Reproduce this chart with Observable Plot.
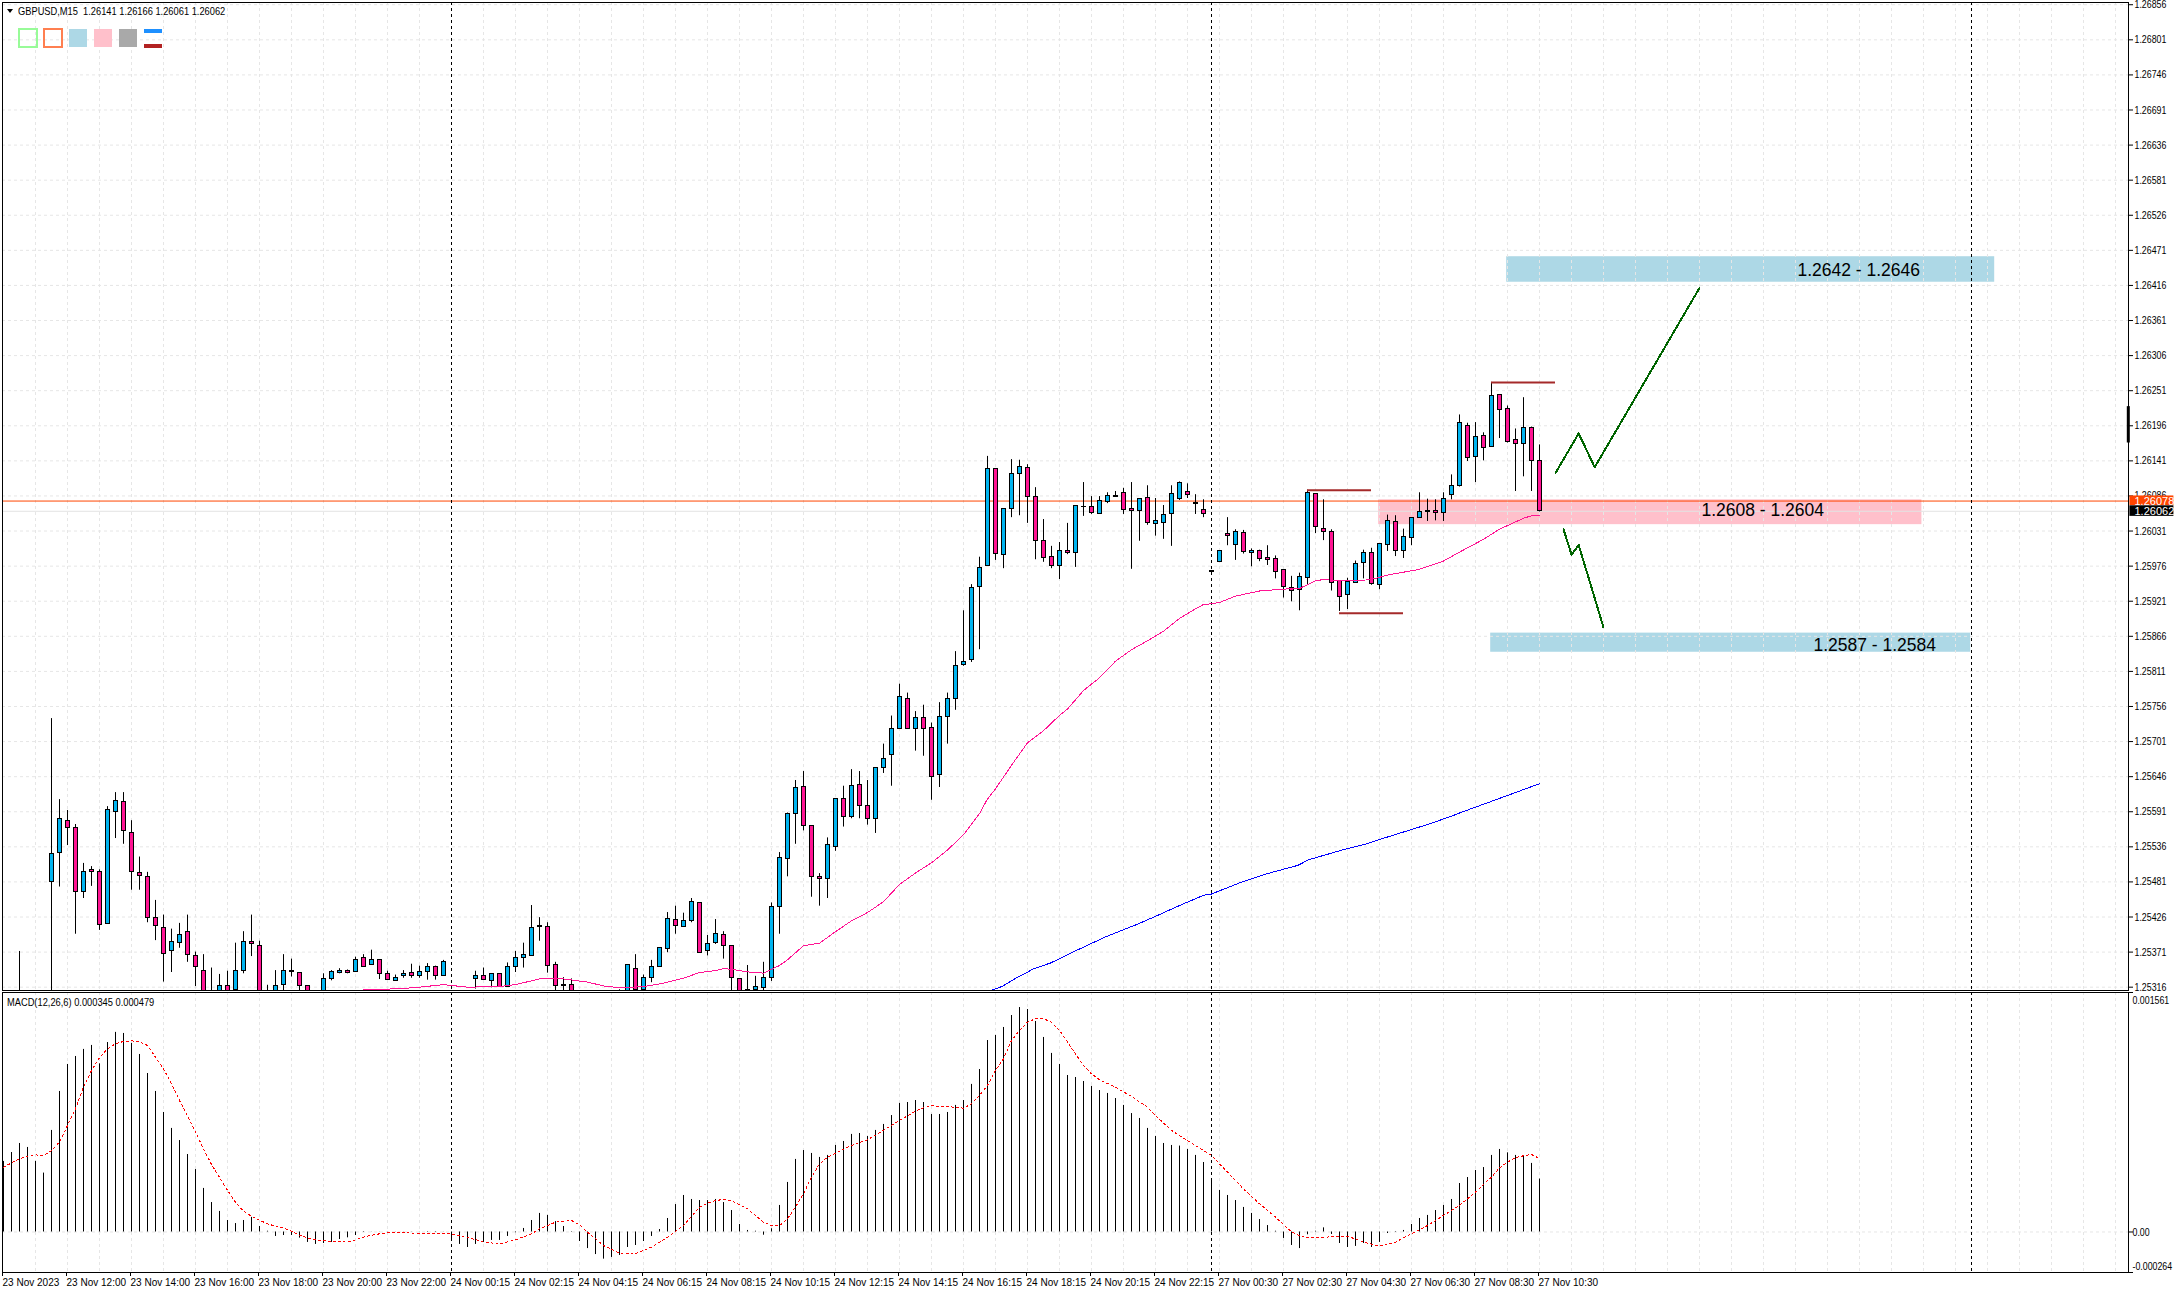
<!DOCTYPE html>
<html><head><meta charset="utf-8">
<script src="https://cdn.jsdelivr.net/npm/d3@7"></script>
<script src="https://cdn.jsdelivr.net/npm/@observablehq/plot@0.6"></script>
<style>
html,body{margin:0;padding:0;background:#fff;overflow:hidden}
#root{position:relative;width:2174px;height:1293px;font-family:"Liberation Sans",sans-serif;font-size:11px;color:#000}
#root svg{position:absolute;left:0;display:block;background:transparent}
.o{position:absolute;white-space:pre;line-height:12px;transform:scaleX(.845);transform-origin:left center}
.s{position:absolute;box-sizing:border-box}
</style></head><body><div id="root"></div>
<script>
// GBPUSD M15 prices in points (1 point = 0.00001); bar number 0..192; null = not drawn in the picture
const highs=[null,null,125372,null,null,null,
125737,125610,125593,125571,125510,125505,125500,125599,125621,125621,
125577,125520,125496,125452,125429,125407,125416,125429,125371,125367,
125346,125336,125341,125385,125403,125429,125388,125319,125342,125367,
125360,125339,125318,null,125337,125342,125345,125343,125363,125367,
125374,125359,125341,125335,125342,125352,125349,125353,125349,125358,
null,null,null,125341,125346,125337,125336,125354,125372,125385,125444,125425,125417,125355,125331,125329,
null,null,null,null,null,125312,125351,125367,125335,125358,125378,125433,125443,125432,125455,
125448,125397,125422,125403,125381,125329,125350,125333,125355,125448,
125527,125589,125640,125654,125569,125494,125550,125611,125631,125657,
125654,125640,125660,125697,125741,125791,125777,125748,125758,125730,
125762,125777,125842,125906,125947,125990,126148,126129,126066,126143,
126142,126135,126099,126049,126007,126013,126043,126071,126107,126085,
126085,126091,126093,126098,126107,126082,126102,126082,126071,126102,
126108,126105,126088,126080,125969,126000,126052,126033,126032,126003,
126001,126008,125992,125970,125960,125965,126095,126089,126080,126033,
125953,125957,125984,126001,126004,126011,126056,126055,126034,126051,
126091,126081,126080,126091,126119,126213,126200,126201,126185,126264,
126244,126227,126191,126240,126194,126166];
const lows=[null,null,125290,null,null,null,
125290,125473,125538,125399,125455,125474,125405,125415,125549,125540,
125468,125468,125417,125389,125324,125339,125377,125355,125317,125285,
125285,125290,125290,125300,125337,125364,125290,125295,125295,125300,
125332,125300,125295,null,125300,125326,125337,125337,125339,125347,
125351,125328,125327,125325,125330,125330,125330,125327,125327,125334,
null,null,null,125313,125327,125315,125317,125316,125339,125346,125365,125388,125338,125295,125300,125295,
null,null,null,null,null,125295,125295,125300,125305,125323,125348,125370,125399,125411,125417,
125370,125365,125383,125360,125295,125300,125300,125300,125300,125325,
125399,125489,125540,125561,125457,125443,125455,125529,125567,125580,
125580,125570,125557,125651,125631,125721,125720,125686,125678,125609,
125629,125697,125750,125819,125825,125845,125976,125985,125972,126052,
126055,126043,125986,125982,125972,125955,125994,125974,126054,126057,
126058,126074,126085,126057,125971,126015,126040,126023,126018,126007,
126079,126082,126057,126052,125964,125983,126008,125985,125995,125975,
125983,125977,125956,125926,125920,125906,125947,126027,126016,125937,
125905,125908,125950,125956,125946,125939,125999,125991,125988,126008,
126051,126046,126047,126046,126080,126100,126140,126107,126141,126163,
126176,126169,126093,126116,126093,126061];
const opens=[null,null,125305,null,null,null,
125481,125526,125577,125566,125465,125499,125497,125415,125591,125607,
125558,125495,125489,125425,125409,125373,125385,125403,125365,125342,
125300,125300,125318,125311,125342,125387,125381,125305,125300,125319,
125342,125339,125318,null,125305,125329,125338,125342,125340,125361,
125351,125359,125337,125326,125334,125339,125334,125340,125348,125334,
null,null,null,125329,125334,125326,125336,125317,125347,125362,125365,125412,125411,125350,125320,125320,
null,null,null,null,null,125305,125305,125345,125311,125331,125348,125376,125422,125411,125419,
125448,125372,125386,125398,125381,125329,125312,125311,125315,125331,
125442,125517,125588,125630,125569,125489,125485,125536,125611,125582,
125633,125600,125580,125660,125680,125721,125768,125721,125738,125723,
125649,125740,125768,125821,125829,125944,125976,126129,125994,126066,
126121,126130,126085,126016,125991,125976,126000,125997,126069,126069,
126058,126077,126086,126091,126066,126063,126083,126042,126044,126058,
126082,126092,126075,126064,125968,125983,126027,126009,126028,125997,
126000,125988,125987,125970,125942,125938,125957,126089,126034,126029,
125953,125931,125950,125981,125997,125946,126009,126045,126000,126020,
126051,126063,126062,126059,126087,126101,126196,126147,126180,126163,
126244,126222,126174,126167,126192,126141];
const closes=[null,null,125302,null,null,null,
125525,125579,125565,125465,125497,125497,125413,125593,125608,125561,
125497,125490,125424,125412,125368,125387,125398,125367,125348,125295,
125296,125318,125300,125342,125387,125384,125300,125302,125318,125342,
125340,125318,125300,null,125329,125340,125342,125338,125359,125348,
125359,125337,125327,125331,125337,125334,125340,125348,125334,125356,
null,null,null,125334,125327,125336,125317,125347,125361,125367,125409,125410,125349,125318,125318,125300,
null,null,null,null,null,125303,125351,125311,125331,125348,125378,125423,125412,125420,125450,
125370,125384,125400,125380,125331,125305,125311,125317,125331,125442,
125519,125588,125629,125569,125489,125486,125539,125611,125583,125632,
125600,125579,125660,125674,125721,125771,125720,125738,125721,125646,
125740,125767,125820,125826,125942,125973,126129,125995,126066,126121,
126132,126085,126016,125989,125976,126000,125997,126071,126068,126060,
126078,126086,126084,126064,126063,126082,126044,126046,126056,126089,
126107,126088,126073,126058,125967,126000,126024,126030,125998,126000,
125987,125986,125967,125943,125937,125959,126091,126037,126029,125950,
125928,125951,125979,125997,125948,126011,126047,126000,126022,126051,
126061,126061,126059,126081,126101,126200,126145,126178,126161,126243,
126221,126171,126167,126192,126141,126062];
// moving averages: [bar, points]
const maPink=[[45,125312],[48,125313],[50,125314],[52,125316],[55,125320],[58,125316],[62,125317],[64,125320],[67,125329],[70,125329],[73,125324],[75,125318],[77,125315],[80,125317],[82,125321],[85,125330],[87,125339],[89,125342],[90,125345],[91,125344],[93,125340],[95,125338],[97,125350],[98,125359],[100,125381],[102,125385],[104,125403],[106,125420],[108,125433],[110,125450],[112,125477],[114,125495],[116,125511],[118,125531],[120,125555],[122,125588],[122.9,125609],[124,125627],[126.4,125671],[128,125699],[130,125718],[132,125742],[133,125752],[135,125781],[137,125801],[139,125827],[141,125845],[143,125859],[145,125874],[147,125894],[149,125909],[150,125916],[151,125917],[152,125919],[154,125929],[157,125937],[160,125940],[162,125941],[164,125953],[165,125955],[167,125953],[169,125953],[171,125955],[173,125962],[177,125971],[180,125984],[182,125998],[185,126018],[187,126034],[190,126051],[191,126055],[192,126055]];
const maBlue=[[123.4,125311],[124.8,125317],[126.4,125329],[128.8,125345],[130.9,125354],[134.1,125373.5],[137.6,125394],[142,125416],[144.7,125431],[147,125444],[150,125460],[151,125462],[154.4,125479],[157.7,125493],[161.8,125507],[163.2,125516],[167.9,125533],[170.2,125540],[172.9,125551],[178,125571],[181,125584],[182.2,125590],[186.8,125611],[192,125635]];
// MACD histogram, millionths
const macd=[460,518,577,551,460,384,662,916,1092,1144,1190,1216,1096,1235,1301,1294,1229,1157,1033,916,
779,675,596,505,407,284,192,134,75,55,75,95,36,5,-29,-23,-23,-40,-68,-81,
-75,-68,-49,-38,-23,-3,-1,-1,1,1,1,-1,1,3,3,1,-55,-81,-101,-81,
-68,-55,-55,-29,-5,23,75,121,108,68,36,3,-62,-108,-147,-177,-166,-153,-101,-88,
-62,-29,16,88,179,238,212,205,205,212,192,140,49,10,5,-21,21,173,323,473,
531,512,486,499,564,590,636,642,623,662,701,759,838,844,857,844,766,766,779,825,
857,962,1059,1248,1281,1333,1411,1463,1450,1372,1268,1164,1092,1020,1007,981,949,922,903,870,
825,772,740,675,623,577,564,560,538,499,453,347,271,238,205,160,121,81,42,5,
-42,-88,-108,-18,5,27,-16,-75,-101,-94,-75,-101,-68,-10,-3,10,49,88,108,140,
173,212,316,355,401,420,499,538,516,499,492,447,345];
// MACD signal line: [bar, millionths]
const signal=[[0,423],[2,477],[3,494],[4,503],[5,497],[6,531],[7,586],[8,694],[9,803],[10,944],[11,1053],[12,1135],[13,1194],[14,1227],[15,1242],[16,1246],[17,1238],[18,1216],[19,1140],[20,1064],[21,966],[22,857],[23,759],[24,651],[25,542],[26,440],[27,357],[28,271],[29,194],[30,136],[31,103],[32,77],[33,53],[34,38],[35,27],[36,5],[37,-21],[38,-38],[39,-51],[40,-58],[41,-60],[43,-66],[44,-51],[45,-34],[46,-21],[47,-12],[48,-5],[50,-5],[52,-8],[54,-12],[56,-12],[58,-34],[60,-66],[62,-77],[64,-51],[66,-12],[67,21],[69,64],[71,75],[72,47],[73,-1],[75,-88],[77,-138],[79,-142],[81,-99],[83,-34],[85,42],[87,162],[88,188],[89,205],[90,212],[91,205],[93,151],[95,64],[96,42],[97,42],[98,86],[99,162],[100,249],[101,357],[102,444],[103,488],[104,514],[106,564],[108,601],[110,662],[112,727],[114,788],[115,809],[116,822],[118,818],[120,807],[121,836],[122,890],[123,955],[124,1053],[125,1129],[126,1248],[127,1314],[128,1368],[129,1390],[130,1390],[131,1368],[132,1314],[133,1238],[134,1161],[135,1085],[136,1031],[137,992],[139,944],[141,883],[143,814],[144,759],[146,662],[148,596],[150,531],[151,499],[153,390],[155,281],[157,184],[159,97],[161,0],[162,-23],[163,-36],[165,-34],[167,-29],[168,-27],[170,-66],[172,-92],[174,-66],[176,-12],[178,42],[180,108],[182,173],[184,260],[186,358],[187,418],[188,455],[189,484],[190,497],[191,505],[192,479]];
const priceTicks=[1.26856,1.26801,1.26746,1.26691,1.26636,1.26581,1.26526,1.26471,1.26416,1.26361,1.26306,1.26251,1.26196,1.26141,1.26086,1.26031,1.25976,1.25921,1.25866,1.25811,1.25756,1.25701,1.25646,1.25591,1.25536,1.25481,1.25426,1.25371,1.25316];
const timeLabels=["23 Nov 2023","23 Nov 12:00","23 Nov 14:00","23 Nov 16:00","23 Nov 18:00","23 Nov 20:00","23 Nov 22:00","24 Nov 00:15","24 Nov 02:15","24 Nov 04:15","24 Nov 06:15","24 Nov 08:15","24 Nov 10:15","24 Nov 12:15","24 Nov 14:15","24 Nov 16:15","24 Nov 18:15","24 Nov 20:15","24 Nov 22:15","27 Nov 00:30","27 Nov 02:30","27 Nov 04:30","27 Nov 06:30","27 Nov 08:30","27 Nov 10:30"];
const sessionBars=[56,151,246];
const zones=[{x1:187.9,x2:248.9,hi:1.26461,lo:1.26421,label:"1.2642 - 1.2646",lx:231.9,ly:1.26439,color:"#add8e6"},
{x1:171.9,x2:239.8,hi:1.26080,lo:1.26041,label:"1.2608 - 1.2604",lx:219.9,ly:1.26064,color:"#ffc0cb"},
{x1:185.9,x2:245.9,hi:1.25871,lo:1.25841,label:"1.2587 - 1.2584",lx:233.9,ly:1.25851,color:"#add8e6"}];
const levels=[{x1:163,x2:171,p:1.26095},{x1:167,x2:175,p:1.25902},{x1:186,x2:194,p:1.26264}];
const pathUp=[[194,1.26122],[196.9,1.26184],[198.9,1.26131],[212,1.26412]];
const pathDown=[[195,1.26034],[196,1.25994],[196.9,1.26009],[200,1.25880]];
const ask=1.26078, bid=1.26062;

const UP="#00b4f0", DOWN="#ff1493", GRID="#e6e6e6", DASH="3,3", CRISP="crispEdges";
const bars=d3.range(193).map(i=>({i,h:highs[i]/1e5,l:lows[i]/1e5,o:opens[i]/1e5,c:closes[i]/1e5,ok:highs[i]!=null}))
  .filter(d=>d.ok);
const xScale={domain:[0,192],range:[3,1539],axis:null};
const xGrid=d3.range(4,266,4);
const common={width:2174,marginLeft:2,marginRight:46,
  style:{fontFamily:'"Liberation Sans",sans-serif',fontSize:"11px",color:"#000",background:"transparent",overflow:"visible"}};
const body=(cond,fill)=>Plot.rect(bars.filter(cond),{x1:d=>d.i-0.25,x2:d=>d.i+0.25,y1:"o",y2:"c",fill,stroke:"#000",strokeWidth:1,clip:"frame",dx:0.5,shapeRendering:CRISP});
const vGrid=()=>Plot.ruleX(xGrid,{stroke:GRID,strokeDasharray:DASH});
const vSess=()=>Plot.ruleX(sessionBars,{stroke:"#000",strokeDasharray:"3,3"});

const price=Plot.plot({...common,x:xScale,height:991,marginTop:2,marginBottom:1,
 y:{domain:[1.253108,1.268595],axis:null},
 marks:[
  Plot.rect(zones,{x1:"x1",x2:"x2",y1:"lo",y2:"hi",fill:"color"}),
  Plot.ruleY(priceTicks,{stroke:GRID,strokeDasharray:DASH}),
  vGrid(),
  Plot.ruleY([bid],{stroke:"#e3e3e3"}),
  Plot.ruleY([ask],{stroke:"#ff4500"}),
  vSess(),
  Plot.ruleX(bars,{x:"i",y1:"l",y2:"h",stroke:"#000",clip:"frame"}),
  body(d=>d.c>=d.o,UP),
  body(d=>d.c<d.o,DOWN),
  Plot.line(maPink,{x:d=>d[0],y:d=>d[1]/1e5,stroke:"#ff1493",strokeWidth:1,clip:"frame",shapeRendering:CRISP}),
  Plot.line(maBlue,{x:d=>d[0],y:d=>d[1]/1e5,stroke:"#0000ff",strokeWidth:1,clip:"frame",shapeRendering:CRISP}),
  Plot.ruleY(levels,{y:"p",x1:"x1",x2:"x2",stroke:"#a52a2a",strokeWidth:2}),
  Plot.line(pathUp,{x:d=>d[0],y:d=>d[1],stroke:"#006400",strokeWidth:2,shapeRendering:CRISP}),
  Plot.line(pathDown,{x:d=>d[0],y:d=>d[1],stroke:"#006400",strokeWidth:2,shapeRendering:CRISP}),
  Plot.text(zones,{x:"lx",y:"ly",text:"label",fontSize:17.5,fontFamily:'"Liberation Sans",sans-serif',fill:"#000"}),
  Plot.axisY({anchor:"right",ticks:priceTicks,tickFormat:d3.format(".5f"),tickSize:4,tickPadding:2,label:null}),
  Plot.ruleX([265.6],{y1:1.26226,y2:1.26169,stroke:"#000",strokeWidth:3}),
  Plot.rect([{x1:265.8,x2:271.3,y1:1.26071,y2:1.26086}],{x1:"x1",x2:"x2",y1:"y1",y2:"y2",fill:"#ff4500"}),
  Plot.rect([{x1:265.8,x2:271.3,y1:1.26054,y2:1.260706}],{x1:"x1",x2:"x2",y1:"y1",y2:"y2",fill:"#000"}),
  Plot.text([{p:ask,t:"1.26078"},{p:bid,t:"1.26062"}],{y:"p",text:"t",frameAnchor:"right",dx:6,textAnchor:"start",fill:"#fff",ariaLabel:"price tag"}),
  Plot.frame({stroke:"#000"})
 ]});
price.style.top="0px";

const macdTicks=[0.001561,0,-0.000264];
const macdPlot=Plot.plot({...common,x:{...xScale,axis:undefined},height:302,marginTop:1,marginBottom:21,
 y:{domain:[-0.000264,0.001561],axis:null},
 marks:[
  Plot.ruleY([0],{stroke:GRID,strokeDasharray:DASH}),
  vGrid(),
  vSess(),
  Plot.ruleX(macd,{x:(d,i)=>i,y1:0,y2:d=>d/1e6,stroke:"#000",strokeWidth:1}),
  Plot.line(signal,{x:d=>d[0],y:d=>d[1]/1e6,stroke:"#ff0000",strokeWidth:1,strokeDasharray:"2,3",shapeRendering:CRISP}),
  Plot.axisY({anchor:"right",ticks:macdTicks,tickFormat:()=>"",tickSize:4,label:null}),
  Plot.text([{v:0.001561,t:"0.001561"}],{y:"v",text:"t",frameAnchor:"right",dx:4,dy:8,textAnchor:"start"}),
  Plot.text([{v:0,t:"0.00"}],{y:"v",text:"t",frameAnchor:"right",dx:4,textAnchor:"start"}),
  Plot.text([{v:-0.000264,t:"-0.000264"}],{y:"v",text:"t",frameAnchor:"right",dx:4,dy:-6,textAnchor:"start"}),
  Plot.axisX({anchor:"bottom",ticks:timeLabels.map((_,k)=>k*8),tickFormat:i=>timeLabels[i/8],textAnchor:"start",tickSize:4,tickPadding:2,dx:-1,label:null}),
  Plot.frame({stroke:"#000"})
 ]});
macdPlot.style.top="991px";

const root=document.getElementById("root");
root.append(price,macdPlot);
function squeeze(svg,sel,k){svg.querySelectorAll(sel).forEach(t=>{const n=t.getComputedTextLength();if(n>0){t.setAttribute("textLength",n*k);t.setAttribute("lengthAdjust","spacingAndGlyphs");}});}
squeeze(price,'[aria-label="y-axis tick label"] text',0.80);
squeeze(price,'[aria-label="price tag"] text',0.80);
squeeze(macdPlot,'[aria-label="x-axis tick label"] text',0.91);
squeeze(macdPlot,'[aria-label="text"] text',0.80);
function add(cls,css,txt){const e=document.createElement("div");e.className=cls;e.style.cssText=css;if(txt)e.textContent=txt;root.append(e);}
add("s","left:7px;top:9px;width:0;height:0;border-left:3.5px solid transparent;border-right:3.5px solid transparent;border-top:4px solid #000");
add("o","left:18px;top:5px","GBPUSD,M15  1.26141 1.26166 1.26061 1.26062");
add("o","left:7px;top:996px","MACD(12,26,6) 0.000345 0.000479");
add("s","left:18px;top:28px;width:20px;height:20px;border:2px solid #98fb98");
add("s","left:43px;top:28px;width:20px;height:20px;border:2px solid #ff7f50");
add("s","left:69px;top:29px;width:18px;height:18px;background:#add8e6");
add("s","left:94px;top:29px;width:18px;height:18px;background:#ffc0cb");
add("s","left:119px;top:29px;width:18px;height:18px;background:#a9a9a9");
add("s","left:144px;top:29px;width:18px;height:4px;background:#1e90ff");
add("s","left:144px;top:44px;width:18px;height:4px;background:#b22222");
if([highs,lows,opens,closes,macd].some(a=>a.length!==193)) throw new Error("len "+[highs,lows,opens,closes,macd].map(a=>a.length));
</script></body></html>
